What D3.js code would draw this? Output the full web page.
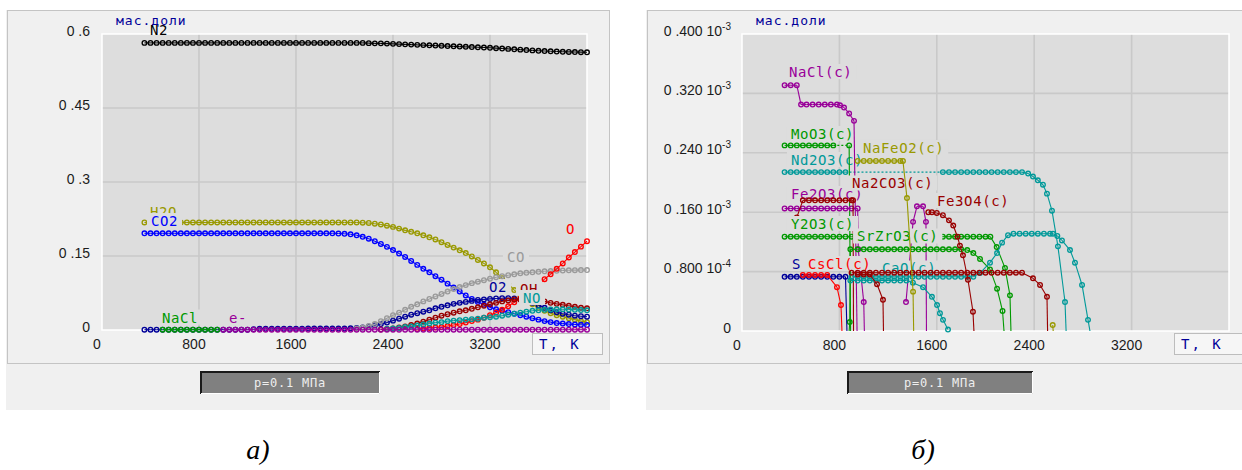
<!DOCTYPE html>
<html>
<head>
<meta charset="utf-8">
<script src="https://cdn.jsdelivr.net/npm/d3@7"></script>
<style>
  body { margin: 0; background: #ffffff; }
  svg { display: block; }
</style>
</head>
<body>
<svg id="chart" width="1242" height="470"></svg>
<script>
// ===================== data =====================
// axis ticks
const xTickTemps = [0, 800, 1600, 2400, 3200];
const xTickLabels = ["0", "800", "1600", "2400", "3200"];
const yTicksLeft = [0, 0.15, 0.3, 0.45, 0.6];
const yTickLabelsLeft = ["0", "0 .15", "0 .3", "0 .45", "0 .6"];
// right panel values are stored in units of 1e-4 mass fraction
const yTicksRight = [0, 0.8, 1.6, 2.4, 3.2, 4.0];
const yTickLabelsRight = ["0", "0 .800 10", "0 .160 10", "0 .240 10", "0 .320 10", "0 .400 10"];
const yTickExpRight = ["", "-4", "-3", "-3", "-3", "-3"];

// gas phase, mass fractions; one value every STEP kelvin from each series' start
const STEP = 50;
const N2 = [
  0.582,0.582,0.582,0.582,0.582,0.582,0.582,0.582,0.582,0.582,
  0.582,0.582,0.582,0.582,0.582,0.582,0.582,0.582,0.582,0.582,
  0.582,0.582,0.582,0.582,0.582,0.582,0.582,0.582,0.582,0.582,
  0.582,0.582,0.582,0.582,0.582,0.582,0.582,
  0.5815,0.581,0.581,0.5805,0.580,0.5795,0.579,0.5785,0.578,0.5775,
  0.577,0.5765,0.576,0.5755,0.575,0.5745,0.574,0.5735,0.573,0.5725,
  0.572,0.5713,0.5705,0.5698,0.569,0.5683,0.5675,0.5668,0.566,0.5655,
  0.565,0.5645,0.564,0.5637,0.5635,0.5632,0.563];
const H2O = [
  0.218,0.218,0.218,0.218,0.218,0.218,0.218,0.218,0.218,0.218,
  0.218,0.218,0.218,0.218,0.218,0.218,0.218,0.218,0.218,0.218,
  0.218,0.218,0.218,0.218,0.218,0.218,0.218,0.218,0.218,0.218,
  0.218,0.218,0.218,0.218,0.218,0.218,
  0.2175,0.217,0.2155,0.214,0.2115,0.209,0.2055,0.202,0.199,0.196,
  0.192,0.188,0.1835,0.178,0.1725,0.167,0.1615,0.156,0.149,0.142,
  0.135,0.127,0.117,0.105,0.094,0.081,0.070,0.060,0.052,0.045,
  0.039,0.034,0.030,0.027,0.024,0.021,0.018,0.016];
const CO2 = [
  0.196,0.196,0.196,0.196,0.196,0.196,0.196,0.196,0.196,0.196,
  0.196,0.196,0.196,0.196,0.196,0.196,0.196,0.196,0.196,0.196,
  0.196,0.196,0.196,0.196,0.196,0.196,0.196,0.196,0.196,0.196,
  0.196,0.196,
  0.1955,0.195,0.194,0.192,0.189,0.185,0.180,0.1745,0.1685,0.162,
  0.155,0.148,0.140,0.132,0.124,0.117,0.109,0.102,0.094,0.086,
  0.078,0.070,0.063,0.057,0.051,0.046,0.042,0.039,0.036,0.033,
  0.030,0.027,0.024,0.021,0.018,0.016,0.014,0.013,0.012,0.011,
  0.0105,0.010];
const O2 = [
  0.0006,0.0006,0.0006,0.0006,0.0006,0.0006,0.0006,0.0006,0.0006,0.0006,
  0.0006,0.0006,0.0006,0.0006,0.0006,0.0006,0.0006,0.0006,
  0.0015,
  0.0025,0.0025,0.0025,0.0025,0.0025,0.0025,0.0025,0.0025,
  0.003,0.003,0.003,0.003,0.003,0.003,0.003,
  0.0035,0.004,0.005,0.007,0.009,0.012,0.015,0.019,0.023,0.027,
  0.031,0.034,0.037,0.040,0.044,0.047,0.050,0.053,0.055,0.057,
  0.059,0.061,0.062,0.063,0.064,0.0645,0.0645,0.064,0.062,0.059,
  0.055,0.050,0.045,0.040,0.036,0.033,0.031,0.029,0.028,0.027];
const CO = [
  0.003,0.005,0.008,0.012,0.018,0.024,0.030,0.035,0.041,0.047,
  0.052,0.058,0.063,0.068,0.073,0.078,0.083,0.087,0.091,0.095,
  0.098,0.101,0.104,0.107,0.109,0.111,0.113,0.115,0.116,0.117,
  0.118,0.119,0.1195,0.120,0.1205,0.121,0.1213,0.1215,0.1216];
const O = [
  0.002,0.003,0.004,0.005,0.006,0.008,0.010,0.012,0.015,0.018,
  0.021,0.025,0.030,0.035,0.041,0.048,0.056,0.064,0.073,0.082,
  0.092,0.103,0.113,0.124,0.135,0.147,0.158,0.169,0.180];
const OH = [
  0.001,0.002,0.003,0.005,0.007,0.010,0.013,0.017,0.021,0.025,
  0.029,0.032,0.035,0.038,0.040,0.043,0.046,0.049,0.052,0.055,
  0.058,0.060,0.062,0.062,0.062,0.061,0.060,0.058,0.055,0.053,
  0.051,0.049,0.047,0.045,0.044];
const NO = [
  0.002,0.003,0.004,0.006,0.007,0.009,0.011,0.013,0.015,0.016,
  0.018,0.019,0.020,0.021,0.022,0.023,0.025,0.026,0.027,0.029,
  0.031,0.033,0.035,0.037,0.039,0.040,0.041,0.0415,0.042,0.042,
  0.0415,0.041,0.0405,0.040];
const NaCl = [0.0006,0.0006,0.0006,0.0006,0.0006,0.0006,0.0006,0.0006,0.0006,0.0006];
const eMinus = [
  0.0006,0.0006,0.0006,0.0006,0.0006,0.0006,0.0006,0.0006,0.0006,0.0006,
  0.0006,0.0006,0.0006,0.0006,0.0006,0.0006,0.0006,0.0006,0.0006,0.0006,
  0.0006,0.0006,0.0006,0.0006,0.0006,0.0006,0.0006,0.0006,0.0006,0.0006,
  0.0006,0.0006,0.0006,0.0006,0.0006,0.0006,0.0006,0.0006,0.0006,0.0006,
  0.0006,0.0006,0.0006,0.0006,0.0006,0.0006,0.0006,0.0006,0.0006,0.0006,
  0.0006,0.0006,0.0006,0.0006,0.0006,0.0006,0.0006,0.0006,0.0006,0.0006,
  0.0006];

// condensed phases: [T, value x 1e-4]; null separates disjoint runs
const NaCl_c = [[350,3.31],[400,3.31],[450,3.31],[485,3.05],[530,3.05],[580,3.05],[630,3.05],[680,3.05],
  [730,3.05],[780,3.05],[805,3.04],[838,3.01],[880,2.93],[920,2.83],[945,0]];
const MoO3_c = [[350,2.50],[400,2.50],[450,2.50],[500,2.50],[550,2.50],[600,2.50],[650,2.50],[700,2.50],
  [750,2.50],[880,2.50],[892,0]];
const Nd2O3_c = [[350,2.14],[400,2.14],[450,2.14],[500,2.14],[550,2.14],[600,2.14],[650,2.14],[700,2.14],
  [750,2.14],[800,2.14],[850,2.14],[1650,2.14],[1700,2.14],[1750,2.14],[1800,2.14],[1850,2.14],[1900,2.14],
  [1950,2.14],[2000,2.14],[2050,2.14],[2100,2.14],[2150,2.14],[2200,2.14],[2250,2.14],[2300,2.14],[2350,2.12],
  [2390,2.08],[2430,2.03],[2472,1.97],[2505,1.85],[2546,1.62],[2595,1.14],[2653,0.39],[2662,0]];
const NaFeO2_c = [[950,2.29],[1000,2.29],[1050,2.29],[1100,2.29],[1150,2.29],[1200,2.29],[1250,2.29],
  [1300,2.29],[1322,2.29],[1355,1.79],[1405,0.53],[1410,0], null, [2552,0.08],[2556,0]];
const Fe2O3_c = [[350,1.65],[400,1.65],[450,1.65],[500,1.65],[550,1.65],[600,1.65],[650,1.65],[700,1.65],
  [750,1.65],[800,1.65],[850,1.65],[900,1.65],[950,1.65],[955,1.10],[1000,0.39],[1005,0], null,
  [1347,0.39],[1405,1.47],[1437,1.68],[1487,1.68],[1511,1.47],[1515,0]];
const Na2CO3_c = [[450,1.53],[500,1.76],[550,1.76],[600,1.76],[650,1.76],[700,1.76],[750,1.76],[800,1.76],
  [850,1.76],[900,1.76],[912,1.76],[916,0]];
const Y2O3_c = [[350,1.27],[400,1.27],[450,1.27],[500,1.27],[550,1.27],[600,1.27],[650,1.27],[700,1.27],
  [750,1.27],[800,1.27],[850,1.27],[900,1.27],[950,1.27],[1000,1.27],[1050,1.27],[1100,1.27],[1150,1.27],
  [1200,1.27],[1250,1.27],[1300,1.27],[1350,1.27],[1400,1.27],[1450,1.27],[1500,1.27],[1550,1.27],
  [1600,1.27],[1650,1.27],[1700,1.27],[1750,1.27],[1800,1.27],[1850,1.27],[1900,1.27],[1950,1.27],
  [2000,1.27],[2040,1.27],[2092,1.13],[2160,0.85],[2201,0.48],[2209,0]];
const SrZrO3_c = [[880,0],[885,0.12],[890,1.10],[950,1.10],[1000,1.10],[1050,1.10],[1100,1.10],[1150,1.10],
  [1200,1.10],[1250,1.10],[1300,1.10],[1350,1.10],[1400,1.10],[1450,1.10],[1500,1.10],[1550,1.10],
  [1600,1.10],[1650,1.10],[1700,1.10],[1750,1.10],[1800,1.10],[1850,1.09],[1900,1.05],[1955,0.97],
  [2037,0.83],[2095,0.57],[2140,0.27],[2152,0]];
const S_c = [[350,0.73],[400,0.73],[450,0.73],[500,0.73],[550,0.73],[600,0.73],[650,0.73],[700,0.73],
  [750,0.73],[800,0.73],[850,0.73],[862,0]];
const CsCl_c = [[500,0.755],[550,0.755],[600,0.755],[650,0.755],[700,0.755],[780,0.59],[813,0.35],[821,0]];
const CaO_c = [[890,0.68],[950,0.68],[1000,0.68],[1050,0.68],[1100,0.68],[1150,0.68],[1200,0.68],
  [1250,0.68],[1300,0.68],[1350,0.68],[1404,0.65],[1487,0.59],[1560,0.46],[1602,0.35],[1626,0.24],
  [1651,0.15],[1692,0.02]];
const tealPhase = [[900,0.73],[950,0.73],[1000,0.73],[1050,0.73],[1100,0.73],[1150,0.73],[1200,0.73],
  [1250,0.73],[1300,0.73],[1350,0.73],[1400,0.73],[1450,0.73],[1500,0.73],[1550,0.73],[1600,0.73],
  [1650,0.73],[1700,0.73],[1750,0.73],[1800,0.73],[1850,0.73],[1900,0.73],[1955,0.78],[2037,0.92],
  [2095,1.05],[2136,1.19],[2185,1.29],[2230,1.31],[2280,1.31],[2330,1.31],[2380,1.31],[2430,1.31],
  [2480,1.31],[2530,1.31],[2554,1.31],[2590,1.28],[2628,1.22],[2694,1.09],[2735,0.92],[2793,0.62],
  [2842,0.15],[2858,0]];
const redPhaseA = [[950,0.76],[1000,0.76],[1050,0.76],[1109,0.63],[1158,0.42],[1162,0]];
const redPhaseB = [[900,0.785],[950,0.785],[1000,0.785],[1050,0.785],[1100,0.785],[1150,0.785],
  [1200,0.785],[1250,0.785],[1300,0.785],[1350,0.785],[1400,0.785],[1450,0.785],[1500,0.785],
  [1550,0.785],[1600,0.785],[1650,0.785],[1700,0.785],[1750,0.785],[1800,0.785],[1850,0.785],
  [1900,0.785],[1950,0.785],[2000,0.785],[2050,0.785],[2100,0.785],[2150,0.785],[2200,0.785],
  [2250,0.785],[2300,0.785],[2390,0.71],[2448,0.62],[2505,0.46],[2510,0]];
const Fe3O4_c = [[1530,1.60],[1560,1.60],[1600,1.59],[1650,1.56],[1700,1.49],[1735,1.42],[1770,1.27],
  [1790,1.15],[1815,1.02],[1856,0.69],[1897,0.26],[1905,0]];

// ===================== styling & layout =====================
const PANEL_BG = "#f0f0f0";
const PLOT_BG = "#dddddd";
const GRID = "#c9c9c9";
const LABEL_FONT = "'DejaVu Sans Mono', 'Liberation Mono', monospace";
const TICK_FONT = "'Liberation Sans', Arial, sans-serif";

const toPoints = (start, vals) => vals.map((v, i) => [start + STEP * i, v]);

const leftSeries = [
  { name: "N2",   pts: toPoints(350, N2),     color: "#000000", at: [396, 0.608],  box: false },
  { name: "H2O",  pts: toPoints(350, H2O),    color: "#999900", at: [396, 0.2395] },
  { name: "CO2",  pts: toPoints(350, CO2),    color: "#0000ff", at: [404, 0.2209] },
  { name: "O2",   pts: toPoints(350, O2),     color: "#000099", at: [3192, 0.0872] },
  { name: "CO",   pts: toPoints(2100, CO),    color: "#9a9a9a", at: [3340, 0.147] },
  { name: "O",    pts: toPoints(2600, O),     color: "#ff0000", at: [3827, 0.2057] },
  { name: "OH",   pts: toPoints(2300, OH),    color: "#990000", at: [3447, 0.0835] },
  { name: "NO",   pts: toPoints(2350, NO),    color: "#009999", at: [3472, 0.0649] },
  { name: "NaCl", pts: toPoints(500, NaCl),   color: "#009900", at: [495, 0.0253] },
  { name: "e-",   pts: toPoints(1000, eMinus),color: "#990099", at: [1047, 0.0243] }
];

const rightSeries = [
  { name: "Nd2O3(c)",  pts: Nd2O3_c,  color: "#009999", at: [402, 2.303] },
  { name: "MoO3(c)",   pts: MoO3_c,   color: "#009900", at: [402, 2.653] },
  { name: "NaCl(c)",   pts: NaCl_c,   color: "#990099", at: [386, 3.488] },
  { name: "Fe2O3(c)",  pts: Fe2O3_c,  color: "#990099", at: [402, 1.845] },
  { name: "Na2CO3(c)", pts: Na2CO3_c, color: "#990000", at: [903, 1.987] },
  { name: "Y2O3(c)",   pts: Y2O3_c,   color: "#009900", at: [402, 1.441] },
  { name: "SrZrO3(c)", pts: SrZrO3_c, color: "#009900", at: [945, 1.273] },
  { name: "S",         pts: S_c,      color: "#000099", at: [411, 0.902] },
  { name: "CsCl(c)",   pts: CsCl_c,   color: "#ff0000", at: [542, 0.902] },
  { name: "CaO(c)",    pts: CaO_c,    color: "#009999", at: [1150, 0.842] },
  { name: null,        pts: tealPhase,color: "#009999" },
  { name: null,        pts: redPhaseA,color: "#990000" },
  { name: null,        pts: redPhaseB,color: "#990000" },
  { name: "Fe3O4(c)",  pts: Fe3O4_c,  color: "#990000", at: [1602, 1.751] },
  { name: "NaFeO2(c)", pts: NaFeO2_c, color: "#999900", at: [994, 2.465] }
];

const panels = [
  { id: "pa", outer: [6, 10, 604, 400], frame: [7, 10, 602, 353], plot: [102, 34, 587, 330],
    yDomain: [0, 0.6], yTicks: yTicksLeft, yLabels: yTickLabelsLeft, yExp: null, yLabelX: 90,
    series: leftSeries, tk: [532, 333, 70, 21], button: [200, 371, 180, 23], caption: "а)", capX: 258 },
  { id: "pb", outer: [646, 10, 610, 400], frame: [647, 10, 610, 353], plot: [742, 34, 1229, 331],
    yDomain: [0, 4.0], yTicks: yTicksRight, yLabels: yTickLabelsRight, yExp: yTickExpRight, yLabelX: 731,
    series: rightSeries, tk: [1174, 333, 80, 21], button: [847, 371, 186, 23], caption: "б)", capX: 923 }
];

// ===================== drawing =====================
const svg = d3.select("#chart");
const defs = svg.append("defs");

function drawSeries(g, s, x, y) {
  const pts = s.pts;
  // connecting segments; long gaps between computed points are drawn dotted
  for (let i = 1; i < pts.length; i++) {
    const a = pts[i - 1], b = pts[i];
    if (!a || !b) continue;
    g.append("line")
      .attr("x1", x(a[0])).attr("y1", y(a[1]))
      .attr("x2", x(b[0])).attr("y2", y(b[1]))
      .attr("stroke", s.color).attr("stroke-width", 1.1)
      .attr("stroke-dasharray", (b[0] - a[0]) > 100 ? "2,2" : null);
  }
  g.append("g").selectAll("circle")
    .data(pts.filter(p => p && p[1] > 0))
    .join("circle")
    .attr("cx", p => x(p[0])).attr("cy", p => y(p[1]))
    .attr("r", 2.3)
    .attr("fill", "none")
    .attr("stroke", s.color)
    .attr("stroke-width", 1.35);
}

function drawLabel(g, s, x, y, clipId) {
  const px = x(s.at[0]), cy = y(s.at[1]);
  const box = g.append("rect");
  const t = g.append("text")
    .attr("x", px).attr("y", cy + 5)
    .attr("font-family", LABEL_FONT).attr("font-size", 14)
    .attr("letter-spacing", 0.6)
    .attr("fill", s.color)
    .text(s.name);
  if (s.box === false) { box.remove(); return; }
  const w = t.node().getComputedTextLength();
  box.attr("x", px - 4).attr("y", cy - 8)
    .attr("width", w + 8).attr("height", 15)
    .attr("fill", PLOT_BG)
    .attr("clip-path", `url(#${clipId})`);
}

panels.forEach(p => {
  const g = svg.append("g");
  const [pl, pt, pr, pb] = p.plot;

  g.append("rect").attr("x", p.outer[0]).attr("y", p.outer[1])
    .attr("width", p.outer[2]).attr("height", p.outer[3]).attr("fill", PANEL_BG);
  g.append("rect").attr("x", p.frame[0] + 0.5).attr("y", p.frame[1] + 0.5)
    .attr("width", p.frame[2]).attr("height", p.frame[3])
    .attr("fill", "none").attr("stroke", "#c4c4c4");

  const x = d3.scaleLinear().domain([0, 4000]).range([pl, pr]);
  const y = d3.scaleLinear().domain(p.yDomain).range([pb, pt]);

  const clipId = p.id + "-clip";
  defs.append("clipPath").attr("id", clipId)
    .append("rect").attr("x", pl).attr("y", pt).attr("width", pr - pl).attr("height", pb - pt);

  g.append("rect").attr("x", pl).attr("y", pt).attr("width", pr - pl).attr("height", pb - pt)
    .attr("fill", PLOT_BG);

  // grid
  g.append("g").selectAll("line").data(xTickTemps.slice(1)).join("line")
    .attr("x1", d => x(d)).attr("x2", d => x(d)).attr("y1", pt).attr("y2", pb)
    .attr("stroke", GRID).attr("stroke-width", 1.6);
  g.append("g").selectAll("line").data(p.yTicks.slice(1, -1)).join("line")
    .attr("x1", pl).attr("x2", pr).attr("y1", d => y(d)).attr("y2", d => y(d))
    .attr("stroke", GRID).attr("stroke-width", 1.6);

  // light border of the plotting field
  g.append("rect").attr("x", pl).attr("y", pt).attr("width", pr - pl).attr("height", pb - pt)
    .attr("fill", "none").attr("stroke", "#ffffff").attr("stroke-width", 1.5);

  // axes
  const ax = g.append("g").attr("transform", `translate(0,${pb})`)
    .call(d3.axisBottom(x).tickValues(xTickTemps).tickFormat((d, i) => xTickLabels[i]).tickSize(0))
    .attr("font-family", TICK_FONT).attr("font-size", 14).attr("color", "#1c1c1c");
  ax.select(".domain").remove();
  ax.selectAll("text").attr("y", 19).attr("dy", null).attr("dx", -5.5);

  const ay = g.append("g").attr("transform", `translate(${pl},0)`)
    .call(d3.axisLeft(y).tickValues(p.yTicks).tickFormat((d, i) => p.yLabels[i]).tickSize(0))
    .attr("font-family", TICK_FONT).attr("font-size", 14).attr("color", "#1c1c1c");
  ay.select(".domain").remove();
  ay.selectAll("text").attr("x", p.yLabelX - pl).attr("y", 1).attr("dy", null)
    .each(function (d, i) {
      if (p.yExp && p.yExp[i]) {
        d3.select(this).append("tspan").attr("dy", -6).attr("font-size", 10).text(p.yExp[i]);
      }
    });

  // unit caption
  g.append("text").attr("x", pl + 14).attr("y", 25)
    .attr("font-family", LABEL_FONT).attr("font-size", 13).attr("letter-spacing", 1)
    .attr("fill", "#000099").text("мас.доли");

  // series, each followed by its own label
  const sg = g.append("g");
  p.series.forEach(s => {
    drawSeries(sg, s, x, y);
    if (s.name) drawLabel(sg, s, x, y, clipId);
  });

  // temperature unit box
  g.append("rect").attr("x", p.tk[0] + 0.5).attr("y", p.tk[1] + 0.5)
    .attr("width", p.tk[2]).attr("height", p.tk[3])
    .attr("fill", "#f6f6f6").attr("stroke", "#bdbdbd");
  g.append("text").attr("x", p.tk[0] + 7).attr("y", p.tk[1] + 16)
    .attr("font-family", LABEL_FONT).attr("font-size", 14).attr("letter-spacing", 2)
    .attr("fill", "#000099").text("T, K");

  // pressure indicator
  const [bx, by, bw, bh] = p.button;
  g.append("rect").attr("x", bx).attr("y", by).attr("width", bw).attr("height", bh).attr("fill", "#808080");
  g.append("path").attr("d", `M${bx + 1},${by + bh} V${by + 1} H${bx + bw}`)
    .attr("fill", "none").attr("stroke", "#1a1a1a").attr("stroke-width", 2);
  g.append("path").attr("d", `M${bx + 1},${by + bh - 0.5} H${bx + bw - 0.5} V${by + 1}`)
    .attr("fill", "none").attr("stroke", "#ffffff").attr("stroke-width", 1);
  g.append("text").attr("x", bx + bw / 2).attr("y", by + 16)
    .attr("text-anchor", "middle")
    .attr("font-family", LABEL_FONT).attr("font-size", 12).attr("letter-spacing", 0.8)
    .attr("fill", "#eeeeee").text("p=0.1 МПа");

  // sub-figure caption
  svg.append("text").attr("x", p.capX).attr("y", 459)
    .attr("text-anchor", "middle")
    .attr("font-family", "'Liberation Serif', 'Times New Roman', serif")
    .attr("font-style", "italic").attr("font-size", 28)
    .attr("fill", "#000000").text(p.caption);
});
</script>
</body>
</html>
